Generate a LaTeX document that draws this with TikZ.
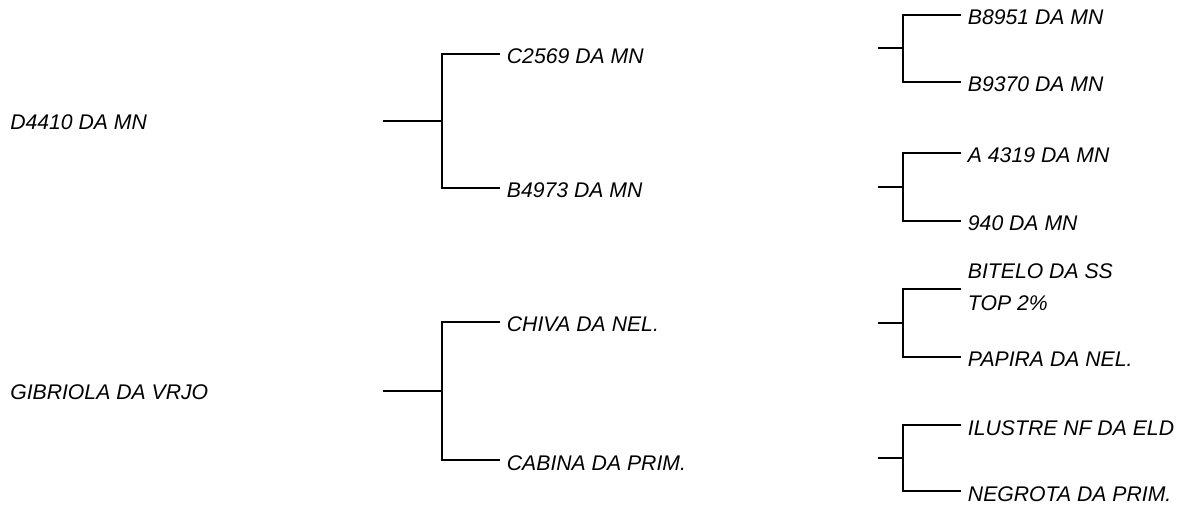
\documentclass[tikz,border=0pt]{standalone}
\usepackage{fontspec}
\setmainfont{Liberation Sans}
\usepackage{tikz}

\tikzset{
    root/.style={anchor=west, inner sep=0pt, font=\fontsize{15.9}{24}\selectfont\itshape},
    leaf/.style={anchor=west, inner xsep=5pt, inner ysep=0pt, text height=15pt, text depth=0pt, font=\fontsize{15.9}{24}\selectfont\itshape},
    leafpair/.style={anchor=west, inner xsep=5pt, inner ysep=0pt, align=left, text depth=3pt, font=\fontsize{15.9}{24}\selectfont\itshape},
    branch/.style={line width=1.4pt}
}

\begin{document}
\begin{tikzpicture}[x=0.75pt, y=-0.75pt]
        \useasboundingbox (0,0) rectangle (1181,509);
        \node[root] (d4410) at (10,122.5) {D4410 DA MN};
        \node[root] (gibriola) at (10,392) {GIBRIOLA DA VRJO};
        \foreach \i/\y/\w in {1/54/C2569 DA MN, 2/188/B4973 DA MN, 3/322/CHIVA DA NEL., 4/460/CABINA DA PRIM.}{
            \node[leaf] (m\i) at (500,\y) {\w};
        }
        \foreach \i/\y/\w in {1/15/B8951 DA MN, 2/82/B9370 DA MN, 3/153/A 4319 DA MN, 4/221/940 DA MN, 6/357/PAPIRA DA NEL., 7/425/ILUSTRE NF DA ELD, 8/491/NEGROTA DA PRIM.}{
            \node[leaf] (l\i) at (961,\y) {\w};
        }
        \node[leafpair] (l5) at (961,289) {BITELO DA SS\\TOP 2\%};
        \coordinate (s1) at (383,121);
        \coordinate (j1) at (442,121);
        \coordinate (s2) at (383,391);
        \coordinate (j2) at (442,391);
        \foreach \i/\y in {1/48, 2/187, 3/323, 4/458}{
            \coordinate (t\i) at (878,\y);
            \coordinate (k\i) at (903,\y);
        }
        \path[draw, branch] (s1) -- (j1);
        \path[draw, branch] (m1.west) -| (j1) |- (m2.west);
        \path[draw, branch] (s2) -- (j2);
        \path[draw, branch] (m3.west) -| (j2) |- (m4.west);
        \path[draw, branch] (t1) -- (k1);
        \path[draw, branch] (l1.west) -| (k1) |- (l2.west);
        \path[draw, branch] (t2) -- (k2);
        \path[draw, branch] (l3.west) -| (k2) |- (l4.west);
        \path[draw, branch] (t3) -- (k3);
        \path[draw, branch] (l5.west) -| (k3) |- (l6.west);
        \path[draw, branch] (t4) -- (k4);
        \path[draw, branch] (l7.west) -| (k4) |- (l8.west);
    \end{tikzpicture}
\end{document}
